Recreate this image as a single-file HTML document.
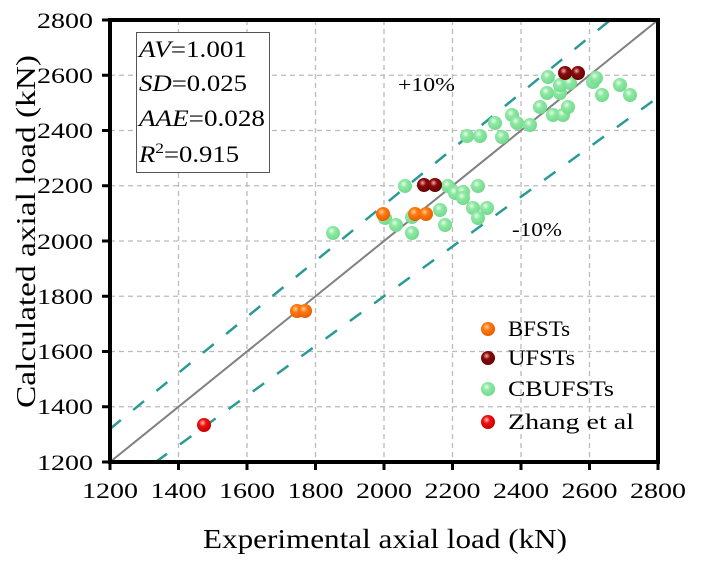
<!DOCTYPE html>
<html><head><meta charset="utf-8"><style>
body{margin:0;background:#fff}
</style></head><body>
<svg width="702" height="568" viewBox="0 0 702 568" xmlns="http://www.w3.org/2000/svg" font-family="'Liberation Serif', serif">
<defs>
<radialGradient id="g" cx="0.4" cy="0.35" r="0.7"><stop offset="0" stop-color="#e8ffe8"/><stop offset="0.35" stop-color="#8ee8a4"/><stop offset="1" stop-color="#6fd88a"/></radialGradient>
<radialGradient id="o" cx="0.4" cy="0.35" r="0.7"><stop offset="0" stop-color="#ffd0a0"/><stop offset="0.35" stop-color="#ff7a10"/><stop offset="1" stop-color="#e05a00"/></radialGradient>
<radialGradient id="d" cx="0.4" cy="0.35" r="0.7"><stop offset="0" stop-color="#f0b0b0"/><stop offset="0.35" stop-color="#8a0a0a"/><stop offset="1" stop-color="#600000"/></radialGradient>
<radialGradient id="r" cx="0.4" cy="0.35" r="0.7"><stop offset="0" stop-color="#ffc0c0"/><stop offset="0.35" stop-color="#f01010"/><stop offset="1" stop-color="#c00000"/></radialGradient>
<clipPath id="c"><rect x="110" y="20" width="548" height="442"/></clipPath>
</defs>
<g stroke="#bbb" stroke-width="1.3" stroke-dasharray="5,4">
<line x1="178.5" y1="20" x2="178.5" y2="462"/><line x1="247" y1="20" x2="247" y2="462"/><line x1="315.5" y1="20" x2="315.5" y2="462"/><line x1="384" y1="20" x2="384" y2="462"/><line x1="452.5" y1="20" x2="452.5" y2="462"/><line x1="521" y1="20" x2="521" y2="462"/><line x1="589.5" y1="20" x2="589.5" y2="462"/>
<line x1="110" y1="75.25" x2="658" y2="75.25"/><line x1="110" y1="130.5" x2="658" y2="130.5"/><line x1="110" y1="185.75" x2="658" y2="185.75"/><line x1="110" y1="241" x2="658" y2="241"/><line x1="110" y1="296.25" x2="658" y2="296.25"/><line x1="110" y1="351.5" x2="658" y2="351.5"/><line x1="110" y1="406.75" x2="658" y2="406.75"/>
</g>
<g clip-path="url(#c)">
<line x1="110" y1="462" x2="658" y2="20" stroke="#808080" stroke-width="2"/>
<g stroke="#2a9a96" stroke-width="2.5" stroke-dasharray="14,16">
<line x1="110" y1="428.9" x2="658" y2="-19"/>
<line x1="155.7" y1="462" x2="658" y2="97.3"/>
</g>
<g>
<circle cx="333" cy="233" r="7" fill="url(#g)"/>
<circle cx="385" cy="218" r="7" fill="url(#g)"/><circle cx="396" cy="225" r="7" fill="url(#g)"/><circle cx="412" cy="233" r="7" fill="url(#g)"/><circle cx="412" cy="217" r="7" fill="url(#g)"/><circle cx="445" cy="225" r="7" fill="url(#g)"/><circle cx="440" cy="210" r="7" fill="url(#g)"/><circle cx="405" cy="186" r="7" fill="url(#g)"/><circle cx="448" cy="186" r="7" fill="url(#g)"/><circle cx="455" cy="193" r="7" fill="url(#g)"/><circle cx="463" cy="192" r="7" fill="url(#g)"/><circle cx="463" cy="198" r="7" fill="url(#g)"/><circle cx="478" cy="186" r="7" fill="url(#g)"/><circle cx="473" cy="208" r="7" fill="url(#g)"/><circle cx="487" cy="208" r="7" fill="url(#g)"/><circle cx="478" cy="218" r="7" fill="url(#g)"/>
<circle cx="467" cy="136" r="7" fill="url(#g)"/><circle cx="480" cy="136" r="7" fill="url(#g)"/><circle cx="495" cy="123" r="7" fill="url(#g)"/><circle cx="502" cy="137" r="7" fill="url(#g)"/><circle cx="512" cy="115" r="7" fill="url(#g)"/><circle cx="517" cy="123" r="7" fill="url(#g)"/><circle cx="530" cy="125" r="7" fill="url(#g)"/>
<circle cx="540" cy="107" r="7" fill="url(#g)"/><circle cx="547" cy="93" r="7" fill="url(#g)"/><circle cx="548" cy="77" r="7" fill="url(#g)"/><circle cx="553" cy="115" r="7" fill="url(#g)"/><circle cx="560" cy="93" r="7" fill="url(#g)"/><circle cx="560" cy="85" r="7" fill="url(#g)"/><circle cx="563" cy="115" r="7" fill="url(#g)"/><circle cx="568" cy="107" r="7" fill="url(#g)"/><circle cx="570" cy="83" r="7" fill="url(#g)"/><circle cx="593" cy="82" r="7" fill="url(#g)"/><circle cx="602" cy="95" r="7" fill="url(#g)"/><circle cx="596" cy="78" r="7" fill="url(#g)"/><circle cx="620" cy="85" r="7" fill="url(#g)"/><circle cx="630" cy="95" r="7" fill="url(#g)"/>
<circle cx="297" cy="311" r="7" fill="url(#o)"/><circle cx="305" cy="311" r="7" fill="url(#o)"/><circle cx="383" cy="214" r="7" fill="url(#o)"/><circle cx="415" cy="214" r="7" fill="url(#o)"/><circle cx="426" cy="214" r="7" fill="url(#o)"/>
<circle cx="424" cy="185" r="7" fill="url(#d)"/><circle cx="435" cy="185" r="7" fill="url(#d)"/><circle cx="565" cy="73" r="7" fill="url(#d)"/><circle cx="578" cy="73" r="7" fill="url(#d)"/>
<circle cx="204" cy="425" r="7" fill="url(#r)"/>
</g>
</g>
<rect x="110" y="20" width="548" height="442" fill="none" stroke="#000" stroke-width="4"/>
<g stroke="#000" stroke-width="3">
<line x1="110" y1="462" x2="110" y2="470"/><line x1="178.5" y1="462" x2="178.5" y2="470"/><line x1="247" y1="462" x2="247" y2="470"/><line x1="315.5" y1="462" x2="315.5" y2="470"/><line x1="384" y1="462" x2="384" y2="470"/><line x1="452.5" y1="462" x2="452.5" y2="470"/><line x1="521" y1="462" x2="521" y2="470"/><line x1="589.5" y1="462" x2="589.5" y2="470"/><line x1="658" y1="462" x2="658" y2="470"/>
<line x1="102" y1="20" x2="110" y2="20"/><line x1="102" y1="75.25" x2="110" y2="75.25"/><line x1="102" y1="130.5" x2="110" y2="130.5"/><line x1="102" y1="185.75" x2="110" y2="185.75"/><line x1="102" y1="241" x2="110" y2="241"/><line x1="102" y1="296.25" x2="110" y2="296.25"/><line x1="102" y1="351.5" x2="110" y2="351.5"/><line x1="102" y1="406.75" x2="110" y2="406.75"/><line x1="102" y1="462" x2="110" y2="462"/>
</g>
<g font-size="22">
<text x="82" y="498" textLength="56" lengthAdjust="spacingAndGlyphs">1200</text><text x="150.5" y="498" textLength="56" lengthAdjust="spacingAndGlyphs">1400</text><text x="219" y="498" textLength="56" lengthAdjust="spacingAndGlyphs">1600</text><text x="287.5" y="498" textLength="56" lengthAdjust="spacingAndGlyphs">1800</text><text x="356" y="498" textLength="56" lengthAdjust="spacingAndGlyphs">2000</text><text x="424.5" y="498" textLength="56" lengthAdjust="spacingAndGlyphs">2200</text><text x="493" y="498" textLength="56" lengthAdjust="spacingAndGlyphs">2400</text><text x="561.5" y="498" textLength="56" lengthAdjust="spacingAndGlyphs">2600</text><text x="630" y="498" textLength="56" lengthAdjust="spacingAndGlyphs">2800</text>
</g>
<g font-size="22">
<text x="37" y="28" textLength="56" lengthAdjust="spacingAndGlyphs">2800</text><text x="37" y="83" textLength="56" lengthAdjust="spacingAndGlyphs">2600</text><text x="37" y="138" textLength="56" lengthAdjust="spacingAndGlyphs">2400</text><text x="37" y="193" textLength="56" lengthAdjust="spacingAndGlyphs">2200</text><text x="37" y="249" textLength="56" lengthAdjust="spacingAndGlyphs">2000</text><text x="37" y="304" textLength="56" lengthAdjust="spacingAndGlyphs">1800</text><text x="37" y="359" textLength="56" lengthAdjust="spacingAndGlyphs">1600</text><text x="37" y="414" textLength="56" lengthAdjust="spacingAndGlyphs">1400</text><text x="37" y="470" textLength="56" lengthAdjust="spacingAndGlyphs">1200</text>
</g>
<text x="203" y="548" font-size="27" textLength="364" lengthAdjust="spacingAndGlyphs">Experimental axial load (kN)</text>
<text transform="translate(35,408) rotate(-90)" font-size="27" textLength="353" lengthAdjust="spacingAndGlyphs">Calculated axial load (kN)</text>
<rect x="136.5" y="32.5" width="133" height="140" fill="#fff" stroke="#555" stroke-width="1"/>
<g font-size="23">
<text x="139" y="57" textLength="108" lengthAdjust="spacingAndGlyphs"><tspan font-style="italic">AV</tspan>=1.001</text>
<text x="139" y="91" textLength="108" lengthAdjust="spacingAndGlyphs"><tspan font-style="italic">SD</tspan>=0.025</text>
<text x="139" y="126" textLength="126" lengthAdjust="spacingAndGlyphs"><tspan font-style="italic">AAE</tspan>=0.028</text>
<text transform="translate(139,162) scale(1.16,1)" x="0" y="0"><tspan font-style="italic">R</tspan><tspan font-size="15" dy="-9">2</tspan><tspan dy="9">=0.915</tspan></text>
</g>
<text x="398" y="91" font-size="20" textLength="57" lengthAdjust="spacingAndGlyphs">+10%</text>
<text x="512" y="236" font-size="20" textLength="50" lengthAdjust="spacingAndGlyphs">-10%</text>
<g font-size="22">
<circle cx="488" cy="329" r="7" fill="url(#o)"/><text x="508" y="336" textLength="62" lengthAdjust="spacingAndGlyphs">BFSTs</text>
<circle cx="488" cy="358" r="7" fill="url(#d)"/><text x="508" y="365" textLength="67" lengthAdjust="spacingAndGlyphs">UFSTs</text>
<circle cx="488" cy="389" r="7" fill="url(#g)"/><text x="508" y="396" textLength="106" lengthAdjust="spacingAndGlyphs">CBUFSTs</text>
<circle cx="488" cy="422" r="7" fill="url(#r)"/><text x="508" y="429" textLength="126" lengthAdjust="spacingAndGlyphs">Zhang et al</text>
</g>
</svg>
</body></html>
